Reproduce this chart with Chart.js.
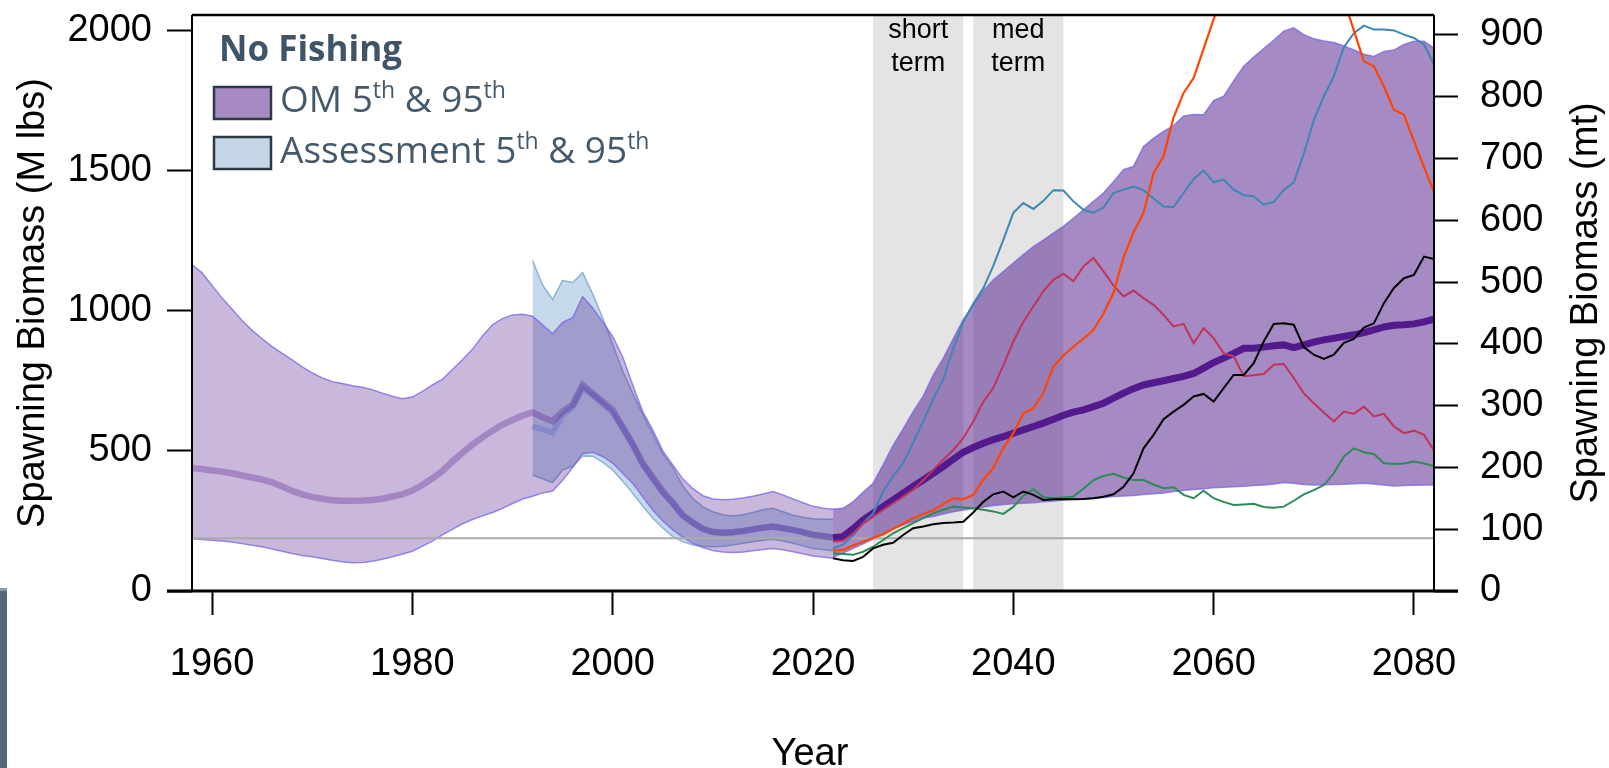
<!DOCTYPE html>
<html><head><meta charset="utf-8">
<script src="https://cdn.jsdelivr.net/npm/chart.js@4.4.1/dist/chart.umd.min.js"></script>
<style>
html,body{margin:0;padding:0;background:#fff;overflow:hidden}
#wrap{position:relative;width:1609px;height:768px}
#edge{position:absolute;left:0;top:588px;width:7px;height:180px;background:#566774;border-top:3px solid #8a99a4;box-sizing:border-box}
</style></head><body>
<div id="wrap"><canvas id="c" width="1609" height="768"></canvas><div id="edge"></div></div>
<script>
// ---------------- DATA (Spawning biomass, M lbs) ----------------
const xTicks = [1960, 1980, 2000, 2020, 2040, 2060, 2080];
const yTicksLeft = [0, 500, 1000, 1500, 2000];
const yTicksRight = [0, 100, 200, 300, 400, 500, 600, 700, 800, 900];
const lbsToMt = 0.45359;
const refLevel = 188;
const termSpans = [[2026, 2035], [2036, 2045]];
const termLabels = [["short", "term"], ["med", "term"]];

// OM historical (1958-2022)
const omHistStart = 1958;
const omHistUpper = [
 1165,1135,1090,1045,1005,965,930,900,872,848,
 825,800,778,760,747,740,732,727,718,706,
 695,686,692,712,735,755,790,825,862,910,
 950,972,985,987,980,950,918,958,975,1050,
 1010,960,908,835,735,640,575,500,450,400,
 365,340,328,326,327,332,338,346,355,343,
 328,315,302,295,292];
const omHistLower = [
 186,184,181,178,175,169,163,158,150,142,
 134,127,122,116,110,104,101,102,106,113,
 122,132,142,160,178,200,220,240,255,268,
 280,295,312,328,338,350,357,395,440,490,
 495,480,456,420,384,336,289,250,218,192,
 170,155,144,139,137,139,144,148,152,147,
 140,133,125,121,117];
const omHistMedian = [
 438,435,430,426,420,412,405,398,388,373,
 357,345,336,329,324,322,322,323,325,329,
 337,345,358,378,402,428,462,493,522,548,
 572,594,610,626,637,620,605,640,665,735,
 705,675,646,585,525,455,405,355,315,270,
 245,222,210,208,210,214,220,226,230,224,
 218,210,200,195,190];

// Assessment (1992-2022)
const assessStart = 1992;
const assessUpper = [
 1179,1092,1040,1108,1100,1136,1060,975,880,785,
 705,630,560,490,440,375,330,300,283,272,
 268,272,280,290,295,283,270,263,258,256,
 256];
const assessLower = [
 414,400,387,432,445,482,481,460,432,392,
 349,303,260,225,194,176,164,160,158,160,
 164,170,176,181,185,178,170,161,152,148,
 144];
const assessMedian = [
 587,577,565,628,655,725,698,668,636,580,
 520,452,400,350,312,268,243,222,211,208,
 210,214,220,226,230,224,218,210,201,196,
 192];

// OM projection, no fishing (2022-2082)
const projStart = 2022;
const omProjUpper = [
 292,295,318,352,384,450,520,578,640,695,
 770,830,900,968,1020,1070,1110,1140,1170,1200,
 1229,1252,1277,1301,1330,1360,1390,1420,1460,1503,
 1515,1586,1615,1640,1660,1695,1700,1699,1750,1765,
 1820,1872,1905,1935,1965,1997,2009,1985,1970,1962,
 1957,1945,1930,1915,1907,1925,1930,1950,1961,1961,
 1937];
const omProjLower = [
 120,135,152,168,185,205,222,236,248,260,
 266,275,283,289,294,300,305,309,311,313,
 315,318,321,325,327,329,331,334,337,339,
 341,344,347,350,355,359,362,365,368,370,
 372,374,376,378,382,387,384,380,378,379,
 380,381,383,384,382,378,375,376,377,378,
 378];
const omProjMedian = [
 190,194,222,253,278,301,325,349,373,396,
 420,444,470,495,512,527,540,551,563,575,
 587,599,613,627,638,646,658,670,688,706,
 722,735,743,750,758,766,776,795,815,831,
 848,866,866,870,875,878,868,878,888,896,
 902,908,914,922,932,942,948,950,953,960,
 970];

// Individual projection trajectories (2022-2082)
const trajBlue = [
 152,165,198,242,277,355,410,456,530,605,
 685,755,865,960,1025,1080,1160,1253,1349,1384,
 1363,1392,1430,1429,1390,1360,1350,1368,1420,1432,
 1443,1430,1400,1372,1370,1420,1470,1500,1458,1468,
 1432,1412,1408,1378,1388,1431,1458,1560,1680,1765,
 1836,1940,1990,2017,2003,2003,2000,1985,1973,1950,
 1878];
const trajCrimson = [
 176,180,205,240,265,290,313,337,361,395,
 432,468,503,545,605,675,725,805,890,960,
 1015,1070,1110,1132,1105,1158,1188,1140,1090,1051,
 1072,1045,1021,985,944,953,884,938,902,848,
 837,766,770,774,807,810,760,705,670,637,
 605,640,632,658,623,632,587,563,572,557,
 501];
const trajOrange = [
 144,147,162,176,190,202,222,240,260,275,
 288,310,331,327,343,396,440,510,563,634,
 652,706,801,840,872,900,932,990,1063,1190,
 1280,1349,1491,1551,1690,1777,1830,1935,2040,2140,
 2200,2250,2290,2320,2340,2350,2340,2320,2290,2250,
 2190,2110,2000,1890,1872,1800,1717,1699,1605,1512,
 1424];
const trajGreen = [
 135,132,129,140,158,182,206,224,242,260,
 277,290,301,298,295,290,284,275,300,340,
 363,335,331,334,337,365,396,410,418,405,
 396,396,380,367,370,343,331,358,331,318,
 307,309,311,300,297,301,322,345,360,378,
 420,480,509,495,489,456,453,455,462,455,
 446];
const trajBlack = [
 117,110,107,122,152,165,172,200,224,230,
 238,243,244,247,280,318,345,355,334,355,
 343,325,327,327,327,328,331,336,345,372,
 420,509,557,613,640,664,694,703,676,724,
 771,771,813,890,953,955,950,870,843,828,
 843,885,899,940,955,1027,1081,1116,1128,1193,
 1184];

// ---------------- CHART ----------------
const F = '"Liberation Sans", Arial, sans-serif';
const LF = '"Open Sans", "Liberation Sans", sans-serif';
const pts = (start, arr) => arr.map((v, i) => ({x: start + i, y: v}));
const xMin = 1958, xMax = 2082, yMax = 2055;

const bandBorder = 'rgba(118,100,228,0.75)';
const line = (data, color, width, order, extra) => Object.assign({
  data, borderColor: color, borderWidth: width, pointRadius: 0, tension: 0,
  fill: false, order, yAxisID: 'y'
}, extra || {});

const datasets = [
  /*0*/ line(pts(assessStart, assessUpper), 'rgba(120,165,205,0.8)', 1.5, 100),
  /*1*/ line(pts(assessStart, assessLower), 'rgba(120,165,205,0.8)', 1.5, 101, {fill: {target: 0}, backgroundColor: 'rgba(110,160,205,0.4)'}),
  /*2*/ line(pts(omHistStart, omHistUpper), bandBorder, 1.5, 90),
  /*3*/ line(pts(omHistStart, omHistLower), bandBorder, 1.5, 91, {fill: {target: 2}, backgroundColor: 'rgba(77,21,135,0.3)'}),
  /*4*/ line(pts(projStart, omProjUpper), bandBorder, 1.5, 88),
  /*5*/ line(pts(projStart, omProjLower), bandBorder, 1.5, 89, {fill: {target: 4}, backgroundColor: 'rgba(77,21,135,0.5)'}),
  /*6*/ line([{x: xMin, y: refLevel}, {x: xMax, y: refLevel}], '#aaaaaa', 2, 87),
  /*7*/ line(pts(assessStart, assessMedian), 'rgba(100,110,200,0.45)', 6, 86),
  /*8*/ line(pts(omHistStart, omHistMedian), 'rgba(77,21,135,0.3)', 6.5, 85),
  /*9*/ line(pts(projStart, omProjMedian), '#521a8c', 7, 80),
  /*10*/ line(pts(projStart, trajBlue), '#3d86b5', 2, 6),
  /*11*/ line(pts(projStart, trajCrimson), '#c2335c', 2, 5),
  /*12*/ line(pts(projStart, trajOrange), '#ff4500', 2.2, 4),
  /*13*/ line(pts(projStart, trajGreen), '#2e8b57', 2, 3),
  /*14*/ line(pts(projStart, trajBlack), '#000000', 2, 2)
];

function drawSupText(ctx, parts, x, y, big, small, rise) {
  let cx = x;
  parts.forEach(([t, sup]) => {
    ctx.font = sup ? small : big;
    ctx.fillText(t, cx, sup ? y - rise : y);
    cx += ctx.measureText(t).width;
  });
}

const decor = {
  id: 'decor',
  beforeDatasetsDraw(chart) {
    const {ctx, chartArea: a, scales: {x}} = chart;
    ctx.save();
    ctx.fillStyle = '#e4e4e4';
    termSpans.forEach(([s, e]) => {
      const x0 = x.getPixelForValue(s), x1 = x.getPixelForValue(e);
      ctx.fillRect(x0, a.top, x1 - x0, a.bottom - a.top);
    });
    ctx.fillStyle = '#000';
    ctx.font = '27px ' + F;
    ctx.textAlign = 'center';
    ctx.textBaseline = 'alphabetic';
    termSpans.forEach(([s, e], i) => {
      const cx = (x.getPixelForValue(s) + x.getPixelForValue(e)) / 2;
      ctx.fillText(termLabels[i][0], cx, 38);
      ctx.fillText(termLabels[i][1], cx, 71);
    });
    ctx.restore();
  },
  afterDraw(chart) {
    const {ctx, chartArea: a} = chart;
    ctx.save();
    // frame
    ctx.strokeStyle = '#000';
    ctx.lineWidth = 2.5;
    ctx.beginPath(); ctx.moveTo(a.left, a.top); ctx.lineTo(a.right, a.top); ctx.stroke();
    ctx.lineWidth = 2;
    ctx.beginPath(); ctx.moveTo(a.left, a.top); ctx.lineTo(a.left, a.bottom); ctx.stroke();
    ctx.beginPath(); ctx.moveTo(a.right, a.top); ctx.lineTo(a.right, a.bottom); ctx.stroke();
    ctx.lineWidth = 3;
    ctx.beginPath(); ctx.moveTo(167, a.bottom); ctx.lineTo(1458, a.bottom); ctx.stroke();

    // axis titles
    ctx.fillStyle = '#000';
    ctx.font = '38px ' + F;
    ctx.textAlign = 'center';
    ctx.textBaseline = 'alphabetic';
    ctx.fillText('Year', 810, 765);
    const cy = (a.top + a.bottom) / 2;
    ctx.save(); ctx.translate(44, cy); ctx.rotate(-Math.PI / 2);
    ctx.fillText('Spawning Biomass (M lbs)', 0, 0); ctx.restore();
    ctx.save(); ctx.translate(1597, cy); ctx.rotate(-Math.PI / 2);
    ctx.fillText('Spawning Biomass (mt)', 0, 0); ctx.restore();

    // legend
    ctx.textAlign = 'left';
    ctx.fillStyle = '#3f5567';
    ctx.font = 'bold 35px ' + LF;
    ctx.fillText('No Fishing', 219, 61);
    ctx.lineWidth = 2.5;
    ctx.strokeStyle = '#2c3a44';
    ctx.fillStyle = '#a68ac3';
    ctx.fillRect(214, 87, 57, 32); ctx.strokeRect(214, 87, 57, 32);
    ctx.fillStyle = '#c5d6e6';
    ctx.fillRect(214, 137, 57, 32); ctx.strokeRect(214, 137, 57, 32);
    ctx.fillStyle = '#44596b';
    const big = '37px ' + LF, small = '23px ' + LF;
    drawSupText(ctx, [['OM 5'], ['th', 1], [' & 95'], ['th', 1]], 280, 112, big, small, 14);
    drawSupText(ctx, [['Assessment 5'], ['th', 1], [' & 95'], ['th', 1]], 280, 163, big, small, 14);
    ctx.restore();
  }
};

const tickFont = {family: F, size: 38};
const axisGrid = {display: true, drawOnChartArea: false, drawTicks: true, tickLength: 24, tickWidth: 2, tickColor: '#000'};
const noPadV = s => { s.paddingTop = 0; s.paddingBottom = 0; };
const noPadH = s => { s.paddingLeft = 0; s.paddingRight = 0; };

new Chart(document.getElementById('c'), {
  type: 'line',
  data: {datasets},
  options: {
    responsive: false,
    animation: false,
    events: [],
    layout: {padding: {top: 15, left: 0, right: 0, bottom: 0}},
    plugins: {legend: {display: false}, tooltip: {enabled: false}},
    scales: {
      x: {
        type: 'linear', position: 'bottom', min: xMin, max: xMax,
        afterBuildTicks: s => { s.ticks = xTicks.map(v => ({value: v})); },
        afterFit: s => { s.height = 177; noPadH(s); },
        grid: axisGrid, border: {display: false},
        ticks: {font: tickFont, color: '#000', padding: 27, maxRotation: 0, autoSkip: false, callback: v => String(v)}
      },
      y: {
        type: 'linear', position: 'left', min: 0, max: yMax,
        afterBuildTicks: s => { s.ticks = yTicksLeft.map(v => ({value: v})); },
        afterFit: s => { s.width = 192; noPadV(s); },
        grid: Object.assign({}, axisGrid, {tickLength: 25}), border: {display: false},
        ticks: {font: tickFont, color: '#000', padding: 15, callback: v => String(v)}
      },
      y2: {
        type: 'linear', position: 'right', min: 0, max: yMax * lbsToMt,
        afterBuildTicks: s => { s.ticks = yTicksRight.map(v => ({value: v})); },
        afterFit: s => { s.width = 175; noPadV(s); },
        grid: axisGrid, border: {display: false},
        ticks: {font: tickFont, color: '#000', padding: 22, callback: v => String(v)}
      }
    }
  },
  plugins: [decor]
});
</script>
</body></html>
